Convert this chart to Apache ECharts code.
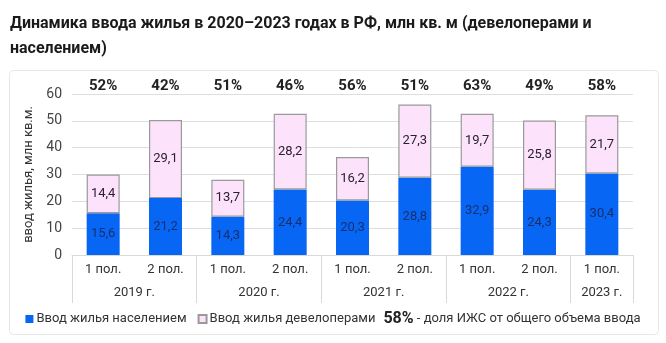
<!DOCTYPE html>
<html>
<head>
<meta charset="utf-8">
<script src="https://cdn.jsdelivr.net/npm/echarts@6/dist/echarts.min.js"></script>
<style>
html,body{margin:0;padding:0;background:#fff;}
#chart{width:666px;height:343px;}
</style>
</head>
<body>
<div id="chart"></div>
<script>
var titleText = 'Динамика ввода жилья в 2020–2023 годах в РФ, млн кв. м (девелоперами и\nнаселением)';
var halves = ['1 пол.', '2 пол.', '1 пол.', '2 пол.', '1 пол.', '2 пол.', '1 пол.', '2 пол.', '1 пол.'];
var years = ['2019 г.', '2020 г.', '2021 г.', '2022 г.', '2023 г.'];
var yearSizes = [2, 2, 2, 2, 1];
var population = [15.6, 21.2, 14.3, 24.4, 20.3, 28.8, 32.9, 24.3, 30.4];
var developers = [14.4, 29.1, 13.7, 28.2, 16.2, 27.3, 19.7, 25.8, 21.7];
var shares = ['52%', '42%', '51%', '46%', '56%', '51%', '63%', '49%', '58%'];
var seriesNames = ['Ввод жилья населением', 'Ввод жилья девелоперами'];
var noteBold = '58%';
var noteText = ' - доля ИЖС от общего объема ввода';
var yAxisName = 'ввод жилья, млн кв.м.';

// year label positions (in category units) built from the group sizes
var yearPos = {};
var acc = 0;
yearSizes.forEach(function (s, i) { yearPos[(acc + s / 2).toFixed(1)] = years[i]; acc += s; });

var FONT = 'Roboto';
var chart = echarts.init(document.getElementById('chart'));
var fmt = function (p) { return p.value.toFixed(1).replace('.', ','); };

chart.setOption({
  animation: false,
  textStyle: { fontFamily: FONT },
  title: {
    text: titleText,
    left: 5, top: 6,
    textStyle: { fontFamily: FONT, fontSize: 16, fontWeight: 'bold', color: '#1a1a1a', lineHeight: 25 }
  },
  graphic: [{
    type: 'rect', left: 7, top: 68, z: -1,
    shape: { width: 649, height: 264, r: 4 },
    style: { fill: 'none', stroke: '#e6e6e6', lineWidth: 1 }
  }],
  grid: { left: 72, right: 33, top: 94, bottom: 88 },
  legend: {
    top: 306, left: 'center',
    itemWidth: 8, itemHeight: 8, itemGap: 11,
    selectedMode: false,
    data: [
      { name: seriesNames[0], icon: 'rect' },
      { name: seriesNames[1], icon: 'rect' }
    ],
    formatter: function (name) {
      if (name === seriesNames[1]) return name + '{g| }{b|' + noteBold + '}{t|' + noteText + '}';
      return name;
    },
    textStyle: {
      fontFamily: FONT, fontSize: 13, color: '#333', padding: [0, 0, 0, -2],
      rich: {
        g: { width: 8 },
        b: { fontFamily: FONT, fontSize: 16, fontWeight: 'bold', color: '#222' },
        t: { fontFamily: FONT, fontSize: 13, color: '#333' }
      }
    }
  },
  xAxis: [{
    type: 'category', data: halves, position: 'bottom',
    axisLine: { lineStyle: { color: '#d9d9d9' } },
    axisTick: { show: true, interval: 1, length: 48, lineStyle: { color: '#d9d9d9' } },
    axisLabel: { interval: 0, margin: 8, fontSize: 13, color: '#333', fontFamily: FONT }
  }, {
    type: 'value', min: 0, max: 9, interval: 0.5, position: 'bottom',
    axisLine: { show: false }, axisTick: { show: false }, splitLine: { show: false },
    axisLabel: {
      margin: 31, fontSize: 13, color: '#333', fontFamily: FONT,
      showMinLabel: true, showMaxLabel: true,
      formatter: function (v) { return yearPos[v.toFixed(1)] || ''; }
    }
  }, {
    type: 'category', data: shares, position: 'top',
    axisLine: { show: false }, axisTick: { show: false },
    axisLabel: { interval: 0, margin: 0, fontSize: 15, fontWeight: 'bold', color: '#222', fontFamily: FONT }
  }],
  yAxis: {
    type: 'value', min: 0, max: 60, interval: 10,
    name: yAxisName, nameLocation: 'middle', nameGap: 33,
    nameTextStyle: { fontSize: 13, color: '#333', fontFamily: FONT },
    axisLine: { show: false }, axisTick: { show: false },
    axisLabel: { fontSize: 14, color: '#444', margin: 10, fontFamily: FONT },
    splitLine: { lineStyle: { color: '#dedede' } }
  },
  series: [{
    name: seriesNames[0], type: 'bar', stack: 'total', data: population, barWidth: 33,
    itemStyle: { color: '#0866f5' },
    label: { show: true, position: 'inside', formatter: fmt, fontSize: 13, color: '#16306e', fontFamily: FONT }
  }, {
    name: seriesNames[1], type: 'bar', stack: 'total', data: developers, barWidth: 33,
    itemStyle: { color: '#fde2fc', borderColor: '#9a9a9a', borderWidth: 1.2 },
    label: { show: true, position: 'inside', formatter: fmt, fontSize: 13, color: '#2a2030', fontFamily: FONT }
  }]
});
</script>
</body>
</html>
